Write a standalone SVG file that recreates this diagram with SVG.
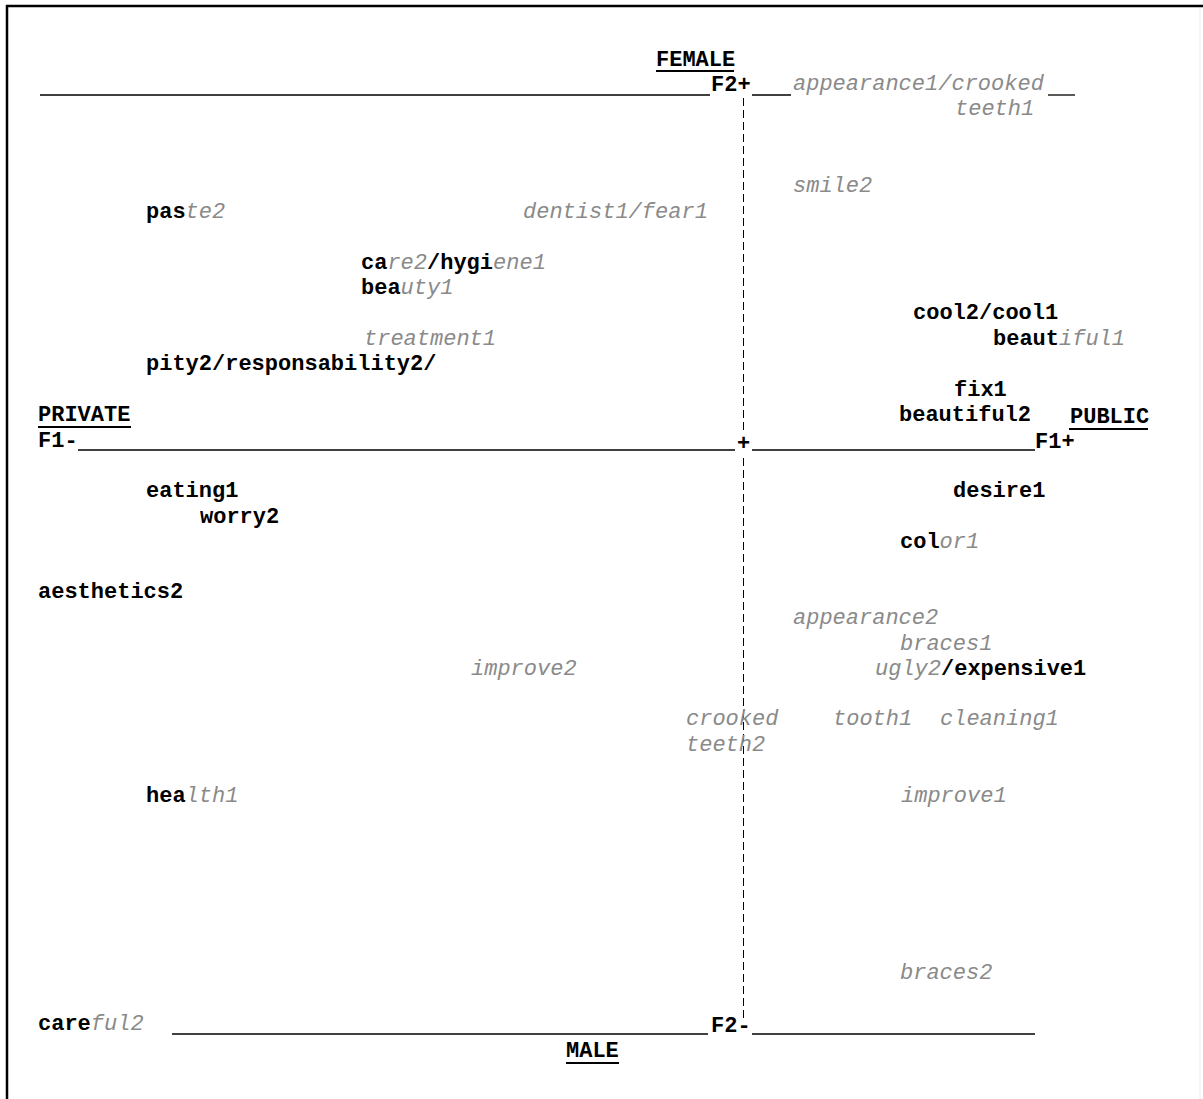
<svg xmlns="http://www.w3.org/2000/svg" width="1203" height="1099" viewBox="0 0 1203 1099">
<style>
text{font-family:"Liberation Mono","Courier New",monospace;font-size:22px;}
.b{font-weight:bold;fill:#000;}
.g{font-style:italic;fill:#8a8a8a;}
.ax{stroke:#000;stroke-width:1.3;fill:none;}
.dash{stroke:#000;stroke-width:1;stroke-dasharray:8 4;fill:none;}
.ul{stroke:#000;stroke-width:2;}
</style>
<rect x="0" y="0" width="1203" height="1099" fill="#fff"/>
<g id="frame">
<line x1="6" y1="6" x2="1203" y2="6" stroke="#000" stroke-width="2.5"/>
<line x1="7" y1="5" x2="7" y2="1099" stroke="#000" stroke-width="2.5"/>
<line x1="1200" y1="8" x2="1200" y2="1099" stroke="#ececec" stroke-width="1"/>
</g>
<g id="connectors">
<line class="ax" x1="40" y1="95" x2="710" y2="95"/>
<line class="ax" x1="752" y1="95" x2="791" y2="95"/>
<line class="ax" x1="1048" y1="95" x2="1075" y2="95"/>
<line class="ax" x1="78" y1="450" x2="735" y2="450"/>
<line class="ax" x1="752" y1="450" x2="1035" y2="450"/>
<line class="ax" x1="172" y1="1034" x2="708" y2="1034"/>
<line class="ax" x1="752" y1="1034" x2="1035" y2="1034"/>
<line class="dash" x1="743.5" y1="98" x2="743.5" y2="432"/>
<line class="dash" x1="743.5" y1="458" x2="743.5" y2="1020"/>
</g>
<g id="axis-female"><text class="b" x="656" y="66">FEMALE</text><line class="ul" x1="656" y1="71" x2="734" y2="71"/><text class="b" x="711" y="91">F2+</text></g>
<g id="axis-male"><text class="b" x="566" y="1057">MALE</text><line class="ul" x1="566" y1="1063" x2="619" y2="1063"/><text class="b" x="711" y="1032">F2-</text></g>
<g id="axis-private"><text class="b" x="38" y="421">PRIVATE</text><line class="ul" x1="38" y1="427" x2="131" y2="427"/><text class="b" x="38" y="447">F1-</text></g>
<g id="axis-public"><text class="b" x="1070" y="423">PUBLIC</text><line class="ul" x1="1069" y1="429" x2="1148" y2="429"/><text class="b" x="1035" y="448">F1+</text></g>
<g id="origin"><text class="b" x="737" y="450">+</text></g>
<g id="n-appearance1"><text class="g" x="793" y="90">appearance1/crooked</text><text class="g" x="955" y="115">teeth1</text></g>
<g id="n-smile2"><text class="g" x="793" y="192">smile2</text></g>
<g id="n-paste2"><text x="146" y="218"><tspan class="b">pas</tspan><tspan class="g">te2</tspan></text></g>
<g id="n-dentist1"><text class="g" x="523" y="218">dentist1/fear1</text></g>
<g id="n-care2"><text x="361" y="269"><tspan class="b">ca</tspan><tspan class="g">re2</tspan><tspan class="b">/hygi</tspan><tspan class="g">ene1</tspan></text></g>
<g id="n-beauty1"><text x="361" y="294"><tspan class="b">bea</tspan><tspan class="g">uty1</tspan></text></g>
<g id="n-cool2"><text class="b" x="913" y="319">cool2/cool1</text></g>
<g id="n-treatment1"><text class="g" x="364" y="345">treatment1</text></g>
<g id="n-beautiful1"><text x="993" y="345"><tspan class="b">beaut</tspan><tspan class="g">iful1</tspan></text></g>
<g id="n-pity2"><text class="b" x="146" y="370">pity2/responsability2/</text></g>
<g id="n-fix1"><text class="b" x="954" y="396">fix1</text></g>
<g id="n-beautiful2"><text class="b" x="899" y="421">beautiful2</text></g>
<g id="n-eating1"><text class="b" x="146" y="497">eating1</text></g>
<g id="n-desire1"><text class="b" x="953" y="497">desire1</text></g>
<g id="n-worry2"><text class="b" x="200" y="523">worry2</text></g>
<g id="n-color1"><text x="900" y="548"><tspan class="b">col</tspan><tspan class="g">or1</tspan></text></g>
<g id="n-aesthetics2"><text class="b" x="38" y="598">aesthetics2</text></g>
<g id="n-appearance2"><text class="g" x="793" y="624">appearance2</text></g>
<g id="n-braces1"><text class="g" x="900" y="650">braces1</text></g>
<g id="n-improve2"><text class="g" x="471" y="675">improve2</text></g>
<g id="n-ugly2"><text x="875" y="675"><tspan class="g">ugly2</tspan><tspan class="b">/expensive1</tspan></text></g>
<g id="n-crooked2"><text class="g" x="686" y="725">crooked</text><text class="g" x="686" y="751">teeth2</text></g>
<g id="n-tooth1"><text class="g" x="833" y="725">tooth1</text></g>
<g id="n-cleaning1"><text class="g" x="940" y="725">cleaning1</text></g>
<g id="n-health1"><text x="146" y="802"><tspan class="b">hea</tspan><tspan class="g">lth1</tspan></text></g>
<g id="n-improve1"><text class="g" x="901" y="802">improve1</text></g>
<g id="n-braces2"><text class="g" x="900" y="979">braces2</text></g>
<g id="n-careful2"><text x="38" y="1030"><tspan class="b">care</tspan><tspan class="g">ful2</tspan></text></g>
</svg>
